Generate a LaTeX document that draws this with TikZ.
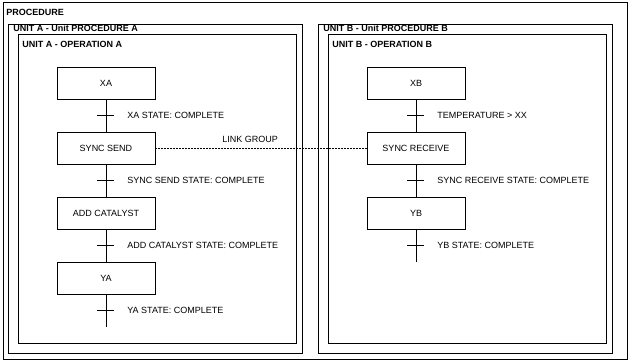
\documentclass[tikz,border=0pt]{standalone}
\usepackage{fontspec}
\setmainfont{Liberation Sans}
\begin{document}
\begin{tikzpicture}[x=1pt,y=-1pt,
  line width=0.8pt,
  frame/.style={draw,line width=0.9pt},
  stepbox/.style={draw,minimum width=98pt,minimum height=32pt,inner sep=0pt,font=\fontsize{9}{11}\selectfont},
  lbl/.style={anchor=west,inner sep=0pt,font=\fontsize{9}{11}\selectfont},
  ttl/.style={anchor=west,inner sep=0pt,font=\bfseries\fontsize{9}{11}\selectfont},
  bar/.style={line width=0.8pt}]
\useasboundingbox (0,0) rectangle (630,363);
% frames
\draw[frame] (3,2) rectangle (627,359);
\draw[frame] (8,24) rectangle (302,353);
\draw[frame] (18,34) rectangle (296,343);
\draw[frame] (318,24) rectangle (612,353);
\draw[frame] (328,34) rectangle (606,343);
\node[ttl] (tproc) at (6,12) {PROCEDURE};
\node[ttl] (tua) at (13,28.5) {UNIT A - Unit PROCEDURE A};
\node[ttl] (toa) at (22,44) {UNIT A - OPERATION A};
\node[ttl] (tub) at (323,28.5) {UNIT B - Unit PROCEDURE B};
\node[ttl] (tob) at (332,44) {UNIT B - OPERATION B};
% steps A
\node[stepbox] (xa) at (106,83) {XA};
\node[stepbox] (ss) at (106,148) {SYNC SEND};
\node[stepbox] (ac) at (106,213) {ADD CATALYST};
\node[stepbox] (ya) at (106,278) {YA};
\coordinate (enda) at (106,327);
% steps B
\node[stepbox] (xb) at (416,83) {XB};
\node[stepbox] (sr) at (416,148) {SYNC RECEIVE};
\node[stepbox] (yb) at (416,213) {YB};
\coordinate (endb) at (416,262);
% connectors
\draw (xa) -- (ss);
\draw (ss) -- (ac);
\draw (ac) -- (ya);
\draw (ya) -- (enda);
\draw (xb) -- (sr);
\draw (sr) -- (yb);
\draw (yb) -- (endb);
\draw[dashed,dash pattern=on 2pt off 1pt,line width=0.6pt] (ss) -- (sr);
% transitions A
\foreach \y/\t in {115/XA STATE: COMPLETE,180/SYNC SEND STATE: COMPLETE,245/ADD CATALYST STATE: COMPLETE,310/YA STATE: COMPLETE}{
  \draw[bar] (97,\y) -- (114,\y);
  \node[lbl] at (127,\y) {\t};
}
\foreach \y/\t in {115/TEMPERATURE > XX,180/SYNC RECEIVE STATE: COMPLETE,245/YB STATE: COMPLETE}{
  \draw[bar] (407,\y) -- (424,\y);
  \node[lbl] at (437,\y) {\t};
}
\node[lbl] (lg) at (222,139) {LINK GROUP};
\end{tikzpicture}
\end{document}
